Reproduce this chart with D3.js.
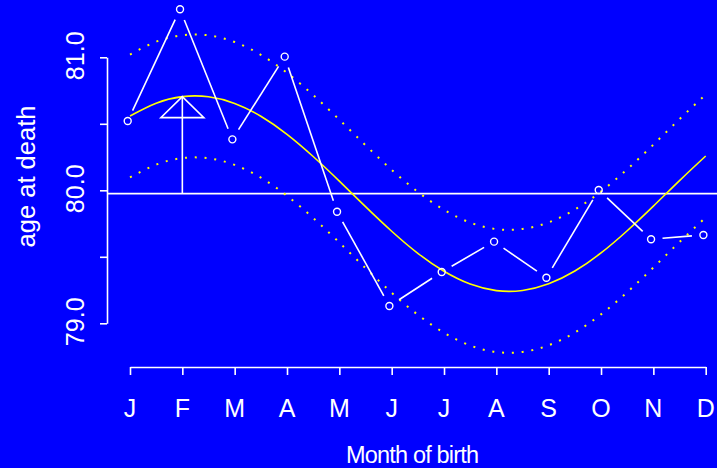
<!DOCTYPE html>
<html>
<head>
<meta charset="utf-8">
<script src="https://cdn.jsdelivr.net/npm/d3@7/dist/d3.min.js"></script>
<style>
  html, body { margin: 0; padding: 0; background: #0000ff; overflow: hidden; }
  svg { display: block; }
  text { font-family: "Liberation Sans", Arial, Helvetica, sans-serif; fill: #ffffff; }
</style>
</head>
<body>
<svg id="chart" width="717" height="468"></svg>
<script>
// Mean age at death by month of birth
const months = ["J", "F", "M", "A", "M", "J", "J", "A", "S", "O", "N", "D"];
const meanAge = [80.521, 81.361, 80.383, 81.005, 79.839, 79.130,
                 79.386, 79.614, 79.343, 80.002, 79.632, 79.664];

// Overall mean age (horizontal reference line)
const overallMean = 79.975;

// Fitted seasonal (cosinor) curve and its confidence band, at half-month steps
const fitMonth = [0, 0.5, 1, 1.5, 2, 2.5, 3, 3.5, 4, 4.5, 5, 5.5,
                  6, 6.5, 7, 7.5, 8, 8.5, 9, 9.5, 10, 10.5, 11];
const fitAge = [80.559, 80.655, 80.704, 80.703, 80.653, 80.557, 80.421, 80.254,
                80.069, 79.877, 79.692, 79.526, 79.391, 79.295, 79.246, 79.247,
                79.297, 79.393, 79.529, 79.696, 79.881, 80.073, 80.258];
const fitUpper = [81.021, 81.117, 81.166, 81.165, 81.115, 81.019, 80.883, 80.716,
                  80.531, 80.339, 80.154, 79.988, 79.853, 79.757, 79.708, 79.709,
                  79.759, 79.855, 79.991, 80.158, 80.343, 80.535, 80.720];
const fitLower = [80.097, 80.193, 80.242, 80.241, 80.191, 80.095, 79.959, 79.792,
                  79.607, 79.415, 79.230, 79.064, 78.929, 78.833, 78.784, 78.785,
                  78.835, 78.931, 79.067, 79.234, 79.419, 79.611, 79.796];

// Month marked as the seasonal peak (index into months)
const peakMonth = 1;

// Axis ticks
const yTicks = [79.0, 79.5, 80.0, 80.5, 81.0];
const yTickLabels = ["79.0", "", "80.0", "", "81.0"];

const svg = d3.select("#chart");
const W = 717, H = 468;

svg.append("rect").attr("width", W).attr("height", H).attr("fill", "#0000ff");

const x = d3.scaleLinear().domain([0, 11]).range([130, 705.7]);
const y = d3.scaleLinear().domain([79, 81]).range([323.3, 57.3]);
const pointShift = -2.3;   // observed means sit just left of the month ticks
const xAxisY = 367;
const yAxisX = 107;

// ---- axes ----
const yAxis = svg.append("g")
  .attr("transform", `translate(${yAxisX},0)`)
  .call(d3.axisLeft(y).tickValues(yTicks).tickSize(7).tickSizeOuter(0).tickFormat(""));
yAxis.selectAll("path, line").attr("stroke", "#ffffff").attr("stroke-width", 1.6);

const xAxis = svg.append("g")
  .attr("transform", `translate(0,${xAxisY})`)
  .call(d3.axisBottom(x).tickValues(d3.range(months.length)).tickSize(8).tickSizeOuter(0).tickFormat(""));
xAxis.selectAll("path, line").attr("stroke", "#ffffff").attr("stroke-width", 1.6);

// y tick labels, rotated
svg.append("g").selectAll("text")
  .data(yTicks.map((v, i) => ({ v, label: yTickLabels[i] })).filter(d => d.label))
  .join("text")
  .attr("transform", d => `translate(83.5,${y(d.v) - 1.5}) rotate(-90)`)
  .attr("text-anchor", "middle")
  .attr("font-size", 25)
  .text(d => d.label);

// x tick labels
svg.append("g").selectAll("text")
  .data(months)
  .join("text")
  .attr("x", (d, i) => x(i))
  .attr("y", 416.7)
  .attr("text-anchor", "middle")
  .attr("font-size", 25)
  .text(d => d);

// axis titles
svg.append("text")
  .attr("x", 412.5)
  .attr("y", 463.3)
  .attr("text-anchor", "middle")
  .attr("font-size", 23.5)
  .attr("textLength", 133)
  .attr("lengthAdjust", "spacing")
  .text("Month of birth");

svg.append("text")
  .attr("transform", "translate(35,176.5) rotate(-90)")
  .attr("text-anchor", "middle")
  .attr("font-size", 25.5)
  .text("age at death");

// ---- overall mean line ----
svg.append("line")
  .attr("x1", yAxisX).attr("x2", W)
  .attr("y1", y(overallMean)).attr("y2", y(overallMean))
  .attr("stroke", "#ffffff").attr("stroke-width", 1.8);

// ---- fitted curve and band ----
const curveLine = (vals) => d3.line()
  .x((d, i) => x(fitMonth[i]))
  .y(d => y(d))
  .curve(d3.curveNatural)(vals);

[fitUpper, fitLower].forEach(vals => {
  svg.append("path")
    .attr("d", curveLine(vals))
    .attr("fill", "none")
    .attr("stroke", "#ffff00")
    .attr("stroke-width", 2)
    .attr("stroke-dasharray", "2 7.8");
});

svg.append("path")
  .attr("d", curveLine(fitAge))
  .attr("fill", "none")
  .attr("stroke", "#ffff00")
  .attr("stroke-width", 1.6);

// ---- peak marker: stem from mean line up to the curve, with open arrowhead ----
const peakX = x(peakMonth);
const peakY = y(fitAge[fitMonth.indexOf(peakMonth)]);
svg.append("line")
  .attr("x1", peakX).attr("x2", peakX)
  .attr("y1", y(overallMean)).attr("y2", peakY)
  .attr("stroke", "#ffffff").attr("stroke-width", 1.6);
svg.append("path")
  .attr("d", `M${peakX},${peakY} L${peakX - 21.5},${peakY + 21} L${peakX + 21.5},${peakY + 21} Z`)
  .attr("fill", "none")
  .attr("stroke", "#ffffff")
  .attr("stroke-width", 1.6);

// ---- observed monthly means: points joined by segments that stop short of each point ----
const pts = meanAge.map((v, i) => [x(i) + pointShift, y(v)]);
const gap = 11.5;
const segs = d3.pairs(pts).map(([a, b]) => {
  const dx = b[0] - a[0], dy = b[1] - a[1];
  const len = Math.hypot(dx, dy);
  const ux = dx / len, uy = dy / len;
  return [a[0] + ux * gap, a[1] + uy * gap, b[0] - ux * gap, b[1] - uy * gap];
});

svg.append("g").selectAll("line")
  .data(segs)
  .join("line")
  .attr("x1", d => d[0]).attr("y1", d => d[1])
  .attr("x2", d => d[2]).attr("y2", d => d[3])
  .attr("stroke", "#ffffff").attr("stroke-width", 1.6);

svg.append("g").selectAll("circle")
  .data(pts)
  .join("circle")
  .attr("cx", d => d[0]).attr("cy", d => d[1])
  .attr("r", 3.5)
  .attr("fill", "none")
  .attr("stroke", "#ffffff")
  .attr("stroke-width", 1.4);
</script>
</body>
</html>
